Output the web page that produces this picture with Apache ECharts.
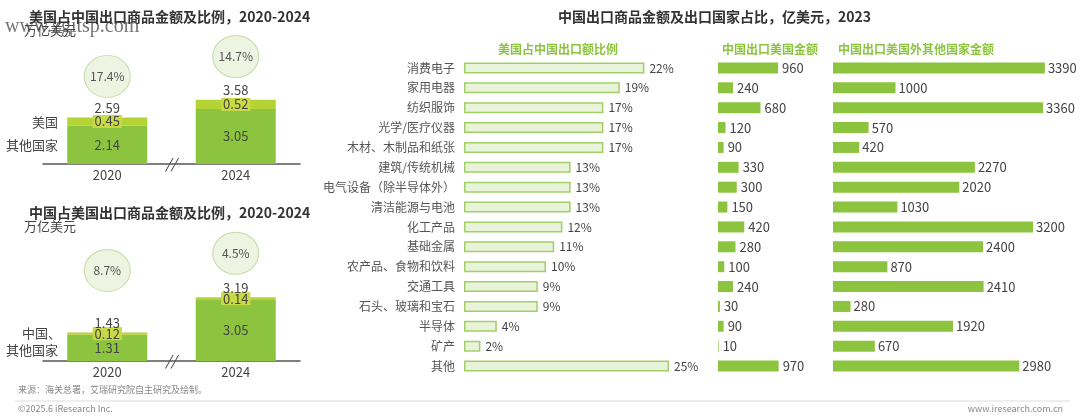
<!DOCTYPE html>
<html><head><meta charset="utf-8">
<script src="https://cdn.jsdelivr.net/npm/echarts@6/dist/echarts.min.js"></script>
<style>html,body{margin:0;padding:0;background:#fff}#c{width:1080px;height:420px}</style>
</head><body><div id="c"></div>
<script>
// ---- Left top: US share of China's exports (万亿美元)
const years = ['2020', '2024'];
const cnOtherVals = [2.14, 3.05];
const cnUsVals = [0.45, 0.52];
const cnTotals = [2.59, 3.58];
const cnUsShare = ['17.4%', '14.7%'];
// ---- Left bottom: China share of US exports (万亿美元)
const usOtherVals = [1.31, 3.05];
const usCnVals = [0.12, 0.14];
const usTotals = [1.43, 3.19];
const usCnShare = ['8.7%', '4.5%'];
// ---- Right: China exports by product, 亿美元, 2023
const categories = ['消费电子', '家用电器', '纺织服饰', '光学/医疗仪器', '木材、木制品和纸张', '建筑/传统机械', '电气设备（除半导体外）', '清洁能源与电池', '化工产品', '基础金属', '农产品、食物和饮料', '交通工具', '石头、玻璃和宝石', '半导体', '矿产', '其他'];
const usSharePct = [22, 19, 17, 17, 17, 13, 13, 13, 12, 11, 10, 9, 9, 4, 2, 25];
const exportToUs = [960, 240, 680, 120, 90, 330, 300, 150, 420, 280, 100, 240, 30, 90, 10, 970];
const exportToOthers = [3390, 1000, 3360, 570, 420, 2270, 2020, 1030, 3200, 2400, 870, 2410, 280, 1920, 670, 2980];

const FONT = '"Noto Sans CJK SC", "Noto Sans", sans-serif';
const GREEN = '#8cc43f';
const LIGHT = '#b5d334';
const HILITE = '#c9da45';
const TXT = '#444';

function leftSeries(gi, other, us, totals, shares, circleOffsets) {
  return [
    { type: 'bar', xAxisIndex: gi, yAxisIndex: gi, stack: 's' + gi, data: other, barWidth: 80,
      itemStyle: { color: GREEN }, silent: true,
      label: { show: true, position: 'inside', fontFamily: FONT, fontSize: 13, color: TXT,
        formatter: p => p.value.toFixed(2) } },
    { type: 'bar', xAxisIndex: gi, yAxisIndex: gi, stack: 's' + gi, data: us, barWidth: 80,
      itemStyle: { color: LIGHT }, silent: true,
      label: { show: true, position: 'inside', fontFamily: FONT, fontSize: 13, color: TXT,
        backgroundColor: HILITE, padding: [0, 2, -1, 2], lineHeight: 14,
        formatter: p => p.value.toFixed(2) } },
    { type: 'scatter', xAxisIndex: gi, yAxisIndex: gi, data: totals, symbolSize: 1, silent: true,
      itemStyle: { color: 'rgba(0,0,0,0)', opacity: 1 },
      label: { show: true, position: 'top', distance: 2, fontFamily: FONT, fontSize: 13, color: TXT,
        formatter: p => p.value.toFixed(2) } },
    { type: 'scatter', xAxisIndex: gi, yAxisIndex: gi, silent: true, clip: false,
      data: totals.map((v, i) => ({ value: v, symbolOffset: [0, circleOffsets[i]] })),
      symbol: 'circle', symbolSize: [46, 42],
      itemStyle: { color: '#eef4e2', borderColor: '#c5dba6', borderWidth: 1, opacity: 1 },
      label: { show: true, position: 'inside', fontFamily: FONT, fontSize: 12, color: '#555',
        formatter: p => shares[p.dataIndex] } }
  ];
}

const rowTop = 58, rowBottom = 44;
const option = {
  animation: false,
  backgroundColor: '#fff',
  textStyle: { fontFamily: FONT },
  title: [
    { text: '美国占中国出口商品金额及比例，2020-2024', left: 24, top: 5,
      textStyle: { fontFamily: FONT, fontSize: 14, fontWeight: 'bold', color: '#333' } },
    { text: '中国占美国出口商品金额及比例，2020-2024', left: 24, top: 201,
      textStyle: { fontFamily: FONT, fontSize: 14, fontWeight: 'bold', color: '#333' } },
    { text: '中国出口商品金额及出口国家占比，亿美元，2023', left: 553, top: 5,
      textStyle: { fontFamily: FONT, fontSize: 14, fontWeight: 'bold', color: '#333' } },
    { text: '美国占中国出口额比例', left: 493, top: 38,
      textStyle: { fontFamily: FONT, fontSize: 12, fontWeight: 'bold', color: GREEN } },
    { text: '中国出口美国金额', left: 717, top: 38,
      textStyle: { fontFamily: FONT, fontSize: 12, fontWeight: 'bold', color: GREEN } },
    { text: '中国出口美国外其他国家金额', left: 833, top: 38,
      textStyle: { fontFamily: FONT, fontSize: 12, fontWeight: 'bold', color: GREEN } }
  ],
  grid: [
    { left: 43, width: 257, top: 38, height: 126, containLabel: false, outerBoundsMode: 'none' },
    { left: 43, width: 257, top: 221, height: 140, containLabel: false, outerBoundsMode: 'none' },
    { left: 464, width: 246, top: rowTop, bottom: rowBottom, containLabel: false, outerBoundsMode: 'none' },
    { left: 718, width: 100, top: rowTop, bottom: rowBottom, containLabel: false, outerBoundsMode: 'none' },
    { left: 833, width: 225, top: rowTop, bottom: rowBottom, containLabel: false, outerBoundsMode: 'none' }
  ],
  xAxis: [
    { gridIndex: 0, type: 'category', data: years, axisTick: { show: false },
      axisLine: { lineStyle: { color: '#555', width: 1.5 } },
      axisLabel: { fontFamily: FONT, fontSize: 13, color: TXT, margin: 5 } },
    { gridIndex: 1, type: 'category', data: years, axisTick: { show: false },
      axisLine: { lineStyle: { color: '#555', width: 1.5 } },
      axisLabel: { fontFamily: FONT, fontSize: 13, color: TXT, margin: 5 } },
    { gridIndex: 2, type: 'value', min: 0, max: 30, show: false },
    { gridIndex: 3, type: 'value', min: 0, max: 1600, show: false },
    { gridIndex: 4, type: 'value', min: 0, max: 3600, show: false }
  ],
  yAxis: [
    { gridIndex: 0, type: 'value', min: 0, max: 7, show: false },
    { gridIndex: 1, type: 'value', min: 0, max: 7, show: false },
    { gridIndex: 2, type: 'category', data: categories, inverse: true,
      axisLine: { show: false }, axisTick: { show: false },
      axisLabel: { fontFamily: FONT, fontSize: 12, color: '#555', margin: 9 } },
    { gridIndex: 3, type: 'category', data: categories, inverse: true, show: false },
    { gridIndex: 4, type: 'category', data: categories, inverse: true, show: false }
  ],
  series: [
    ...leftSeries(0, cnOtherVals, cnUsVals, cnTotals, cnUsShare, [-41, -43]),
    ...leftSeries(1, usOtherVals, usCnVals, usTotals, usCnShare, [-62, -44]),
    { type: 'bar', xAxisIndex: 2, yAxisIndex: 2, data: usSharePct, barWidth: 11, silent: true,
      itemStyle: { color: '#e8f3da', borderColor: '#a2cf68', borderWidth: 1.5 },
      label: { show: true, position: 'right', distance: 5, fontFamily: FONT, fontSize: 12, color: TXT,
        formatter: '{c}%' } },
    { type: 'bar', xAxisIndex: 3, yAxisIndex: 3, data: exportToUs, barWidth: 11, silent: true,
      itemStyle: { color: GREEN },
      label: { show: true, position: 'right', distance: 4, fontFamily: FONT, fontSize: 13, color: TXT } },
    { type: 'bar', xAxisIndex: 4, yAxisIndex: 4, data: exportToOthers, barWidth: 11, silent: true,
      itemStyle: { color: GREEN },
      label: { show: true, position: 'right', distance: 3, fontFamily: FONT, fontSize: 13, color: TXT } }
  ],
  graphic: [
    { type: 'text', left: 24, top: 24, style: { text: '万亿美元', font: '13px ' + FONT, fill: '#444' } },
    { type: 'text', left: 5, top: 17, style: { text: 'www.zgitsp.com', font: '20px "Liberation Serif", "DejaVu Serif", serif', fill: 'rgba(70,70,70,0.75)' } },
    { type: 'text', left: 24, top: 220, style: { text: '万亿美元', font: '13px ' + FONT, fill: '#444' } },
    { type: 'text', x: 58, y: 122, style: { text: '美国', font: '13px ' + FONT, fill: TXT, align: 'right', verticalAlign: 'middle' } },
    { type: 'text', x: 58, y: 145, style: { text: '其他国家', font: '13px ' + FONT, fill: TXT, align: 'right', verticalAlign: 'middle' } },
    { type: 'text', x: 61, y: 333, style: { text: '中国、', font: '13px ' + FONT, fill: TXT, align: 'right', verticalAlign: 'middle' } },
    { type: 'text', x: 58, y: 350, style: { text: '其他国家', font: '13px ' + FONT, fill: TXT, align: 'right', verticalAlign: 'middle' } },
    { type: 'text', x: 171, y: 164, style: { text: '//', font: 'italic 14px ' + FONT, fill: '#333', align: 'center', verticalAlign: 'middle' } },
    { type: 'text', x: 171, y: 361, style: { text: '//', font: 'italic 14px ' + FONT, fill: '#333', align: 'center', verticalAlign: 'middle' } },
    { type: 'text', x: 18, y: 390, style: { text: '来源：海关总署，艾瑞研究院自主研究及绘制。', font: '9px ' + FONT, fill: '#888', verticalAlign: 'middle' } },
    { type: 'line', shape: { x1: 15, y1: 401, x2: 1070, y2: 401 }, style: { stroke: '#ddd', lineWidth: 1 } },
    { type: 'text', x: 18, y: 409, style: { text: '©2025.6 iResearch Inc.', font: '9px ' + FONT, fill: '#888', verticalAlign: 'middle' } },
    { type: 'text', x: 1063, y: 409, style: { text: 'www.iresearch.com.cn', font: '9px ' + FONT, fill: '#888', align: 'right', verticalAlign: 'middle' } }
  ]
};
const chart = echarts.init(document.getElementById('c'), null, { renderer: 'canvas' });
chart.setOption(option);
</script>
</body></html>
